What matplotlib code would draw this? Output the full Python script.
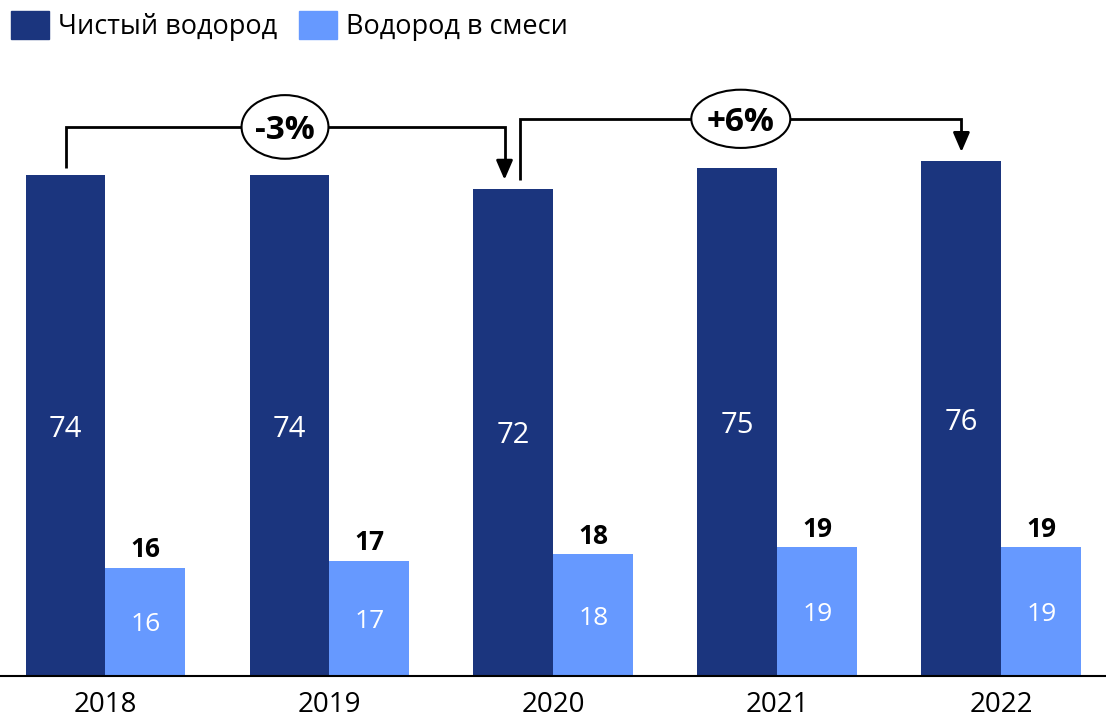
import matplotlib.pyplot as plt
import numpy as np
from matplotlib.patches import Ellipse, Patch

plt.rcParams['font.family'] = ['Open Sans', 'DejaVu Sans']

years = ['2018', '2019', '2020', '2021', '2022']
pure = [74, 74, 72, 75, 76]        # Чистый водород
mixed = [16, 17, 18, 19, 19]       # Водород в смеси
labels = ['Чистый водород', 'Водород в смеси']
changes = ['-3%', '+6%']

dark = '#1b357e'
light = '#6699ff'

fig = plt.figure(figsize=(11.06, 7.19), dpi=100)
ax = fig.add_axes([0, 43/719, 1, 1 - 43/719])

x = np.arange(len(years))
w = 0.357
b1 = ax.bar(x - w/2, pure, w, color=dark)
b2 = ax.bar(x + w/2, mixed, w, color=light)

for i in range(len(years)):
    ax.text(x[i] - w/2, pure[i]/2, str(pure[i]), color='white', ha='center', va='center_baseline',
            fontsize=21)
    ax.text(x[i] + w/2, mixed[i]/2, str(mixed[i]), color='white', ha='center', va='center_baseline',
            fontsize=19)
    ax.text(x[i] + w/2, mixed[i] + 3.1, str(mixed[i]), color='black', ha='center', va='center_baseline',
            fontsize=19, fontweight='bold')

ax.set_xlim(-0.471, 4.467)
ax.set_ylim(0, 99.85)
for s in ['top', 'right', 'left']:
    ax.spines[s].set_visible(False)
ax.spines['bottom'].set_linewidth(1.5)
ax.set_yticks([])
ax.set_xticks(x)
ax.set_xticklabels(years, fontsize=20)
ax.tick_params(axis='x', length=0, pad=11)


# brackets showing the change between years
def bracket(i0, i1, level, start, tip, txt, ew, eh, dx0=0.0, dx1=0.0):
    xa = x[i0] - w/2 + dx0
    xb = x[i1] - w/2 + dx1
    ax.plot([xa, xa, xb, xb], [start, level, level, tip + 2], color='black', lw=2,
            solid_joinstyle='miter', solid_capstyle='butt')
    ax.annotate('', xy=(xb, tip), xytext=(xb, tip + 2.2),
                arrowprops=dict(arrowstyle='-|>,head_length=0.58,head_width=0.25', color='black',
                                lw=2, shrinkA=0, shrinkB=0, mutation_scale=20))
    xm = (xa + xb) / 2
    ax.add_patch(Ellipse((xm, level), ew, eh, facecolor='white', edgecolor='black', lw=1.5, zorder=3))
    ax.text(xm, level, txt, ha='center', va='center_baseline', fontsize=24, fontweight='bold', zorder=4)


bracket(0, 2, pure[0] + 7.1, pure[0] + 1.0, pure[2] + 1.3, changes[0], 0.388, 9.4, 0.0, -0.04)
bracket(2, 4, pure[4] + 6.3, pure[2] + 1.3, pure[4] + 1.4, changes[1], 0.442, 8.6, 0.03, 0.0)

handles = [Patch(color=dark), Patch(color=light)]
fig.legend(handles, labels, loc='upper left', bbox_to_anchor=(0.0, 1.0), ncol=2, frameon=False,
           fontsize=19.5, handlelength=1.4, handleheight=1.2, handletextpad=0.35, columnspacing=0.8,
           borderaxespad=0.1, borderpad=0.3)

plt.savefig('out.png', dpi=100)
